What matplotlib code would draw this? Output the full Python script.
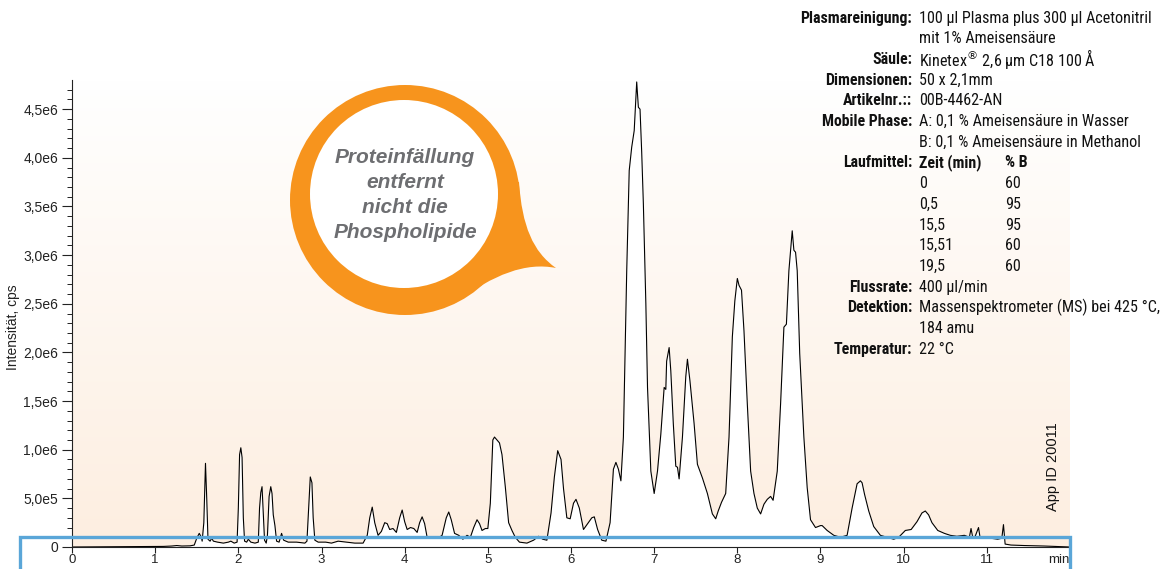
import numpy as np
import matplotlib
matplotlib.use("Agg")
import matplotlib.pyplot as plt
from matplotlib.path import Path
from matplotlib.patches import PathPatch, Circle
from matplotlib import font_manager as fm

# ---- chromatogram (retention time in min, intensity in 1e6 cps) ----
time_min = [
    0.00, 0.40, 0.80, 1.10, 1.20, 1.26, 1.32, 1.42, 1.47, 1.50, 1.53, 1.555, 1.565,
    1.585, 1.605, 1.62, 1.635, 1.66, 1.68, 1.70, 1.75, 1.82, 1.88, 1.91, 1.95,
    1.985, 2.00, 2.015, 2.03, 2.045, 2.06, 2.075, 2.10, 2.12, 2.15, 2.20, 2.24,
    2.255, 2.27, 2.285, 2.30, 2.315, 2.335, 2.35, 2.37, 2.39, 2.405, 2.42, 2.44,
    2.46, 2.49, 2.52, 2.545, 2.60, 2.70, 2.80, 2.825, 2.845, 2.865, 2.885, 2.90,
    2.92, 2.96, 3.05, 3.12, 3.20, 3.30, 3.40, 3.50, 3.55, 3.58, 3.61, 3.64, 3.68,
    3.72, 3.76, 3.79, 3.82, 3.86, 3.90, 3.94, 3.97, 4.00, 4.03, 4.07, 4.11, 4.15,
    4.18, 4.21, 4.24, 4.27, 4.32, 4.40, 4.45, 4.50, 4.53, 4.56, 4.60, 4.65, 4.70,
    4.75, 4.79, 4.83, 4.87, 4.90, 4.93, 4.97, 5.00, 5.03, 5.06, 5.08, 5.11, 5.14,
    5.17, 5.21, 5.25, 5.29, 5.33, 5.38, 5.47, 5.55, 5.61, 5.66, 5.71, 5.76, 5.80,
    5.84, 5.88, 5.91, 5.95, 5.99, 6.03, 6.06, 6.10, 6.15, 6.20, 6.25, 6.28, 6.32,
    6.37, 6.42, 6.47, 6.51, 6.54, 6.57, 6.60, 6.63, 6.67, 6.70, 6.73, 6.76, 6.79,
    6.81, 6.83, 6.85, 6.87, 6.90, 6.92, 6.96, 7.00, 7.04, 7.08, 7.12, 7.14, 7.15,
    7.18, 7.20, 7.23, 7.26, 7.28, 7.30, 7.34, 7.38, 7.40, 7.43, 7.48, 7.52, 7.58,
    7.64, 7.70, 7.74, 7.77, 7.81, 7.86, 7.90, 7.94, 7.97, 8.00, 8.02, 8.05, 8.08,
    8.12, 8.16, 8.20, 8.24, 8.28, 8.32, 8.36, 8.40, 8.43, 8.48, 8.52, 8.56, 8.59,
    8.62, 8.66, 8.68, 8.70, 8.72, 8.75, 8.80, 8.84, 8.88, 8.94, 9.00, 9.02, 9.08,
    9.16, 9.24, 9.32, 9.38, 9.44, 9.48, 9.50, 9.53, 9.58, 9.64, 9.72, 9.80, 9.88,
    9.94, 10.02, 10.09, 10.16, 10.22, 10.26, 10.30, 10.34, 10.41, 10.49, 10.56,
    10.64, 10.73, 10.79, 10.81, 10.83, 10.86, 10.90, 10.92, 10.98, 11.05, 11.13,
    11.18, 11.20, 11.22, 11.29, 11.45, 11.69, 12.00,
]
intensity_mcps = [
    0.000, 0.002, 0.004, 0.006, 0.010, 0.015, 0.010, 0.012, 0.020, 0.09, 0.14, 0.10, 0.06,
    0.25, 0.86, 0.50, 0.08, 0.06, 0.09, 0.06, 0.05, 0.04, 0.05, 0.06, 0.04,
    0.05, 0.40, 0.95, 1.02, 0.92, 0.30, 0.06, 0.05, 0.08, 0.05, 0.04, 0.05,
    0.40, 0.56, 0.62, 0.35, 0.07, 0.04, 0.12, 0.52, 0.62, 0.55, 0.33, 0.22,
    0.06, 0.05, 0.14, 0.07, 0.05, 0.05, 0.04, 0.06, 0.40, 0.72, 0.66, 0.30,
    0.07, 0.05, 0.05, 0.04, 0.06, 0.05, 0.04, 0.04, 0.12, 0.30, 0.41, 0.25, 0.12,
    0.16, 0.25, 0.24, 0.18, 0.19, 0.15, 0.30, 0.38, 0.26, 0.18, 0.20, 0.19, 0.15,
    0.25, 0.31, 0.24, 0.10, 0.09, 0.09, 0.12, 0.30, 0.36, 0.28, 0.14, 0.12, 0.08,
    0.12, 0.10, 0.20, 0.28, 0.24, 0.17, 0.19, 0.19, 0.45, 1.10, 1.13, 1.10, 1.07,
    0.95, 0.62, 0.25, 0.17, 0.10, 0.05, 0.04, 0.07, 0.11, 0.08, 0.07, 0.35, 0.72,
    0.99, 0.90, 0.60, 0.30, 0.29, 0.45, 0.49, 0.40, 0.18, 0.24, 0.30, 0.31, 0.18,
    0.07, 0.06, 0.25, 0.80, 0.87, 0.80, 0.68, 1.13, 2.84, 3.87, 4.11, 4.28, 4.78,
    4.52, 4.50, 4.06, 3.53, 2.50, 1.64, 0.78, 0.55, 0.78, 1.16, 1.64, 1.62, 1.91,
    2.05, 1.81, 1.27, 0.83, 0.82, 0.70, 1.13, 1.75, 1.93, 1.71, 1.27, 0.85, 0.71,
    0.55, 0.34, 0.29, 0.37, 0.46, 0.55, 1.13, 2.16, 2.53, 2.76, 2.69, 2.64, 2.22,
    1.47, 0.78, 0.55, 0.40, 0.34, 0.44, 0.49, 0.52, 0.48, 0.78, 1.47, 2.26, 2.29,
    2.84, 3.25, 3.05, 3.03, 2.84, 1.99, 1.13, 0.61, 0.28, 0.20, 0.22, 0.22, 0.17,
    0.12, 0.10, 0.12, 0.40, 0.65, 0.68, 0.66, 0.54, 0.37, 0.21, 0.12, 0.10, 0.08,
    0.10, 0.17, 0.18, 0.26, 0.35, 0.37, 0.33, 0.25, 0.17, 0.14, 0.12,
    0.11, 0.12, 0.10, 0.19, 0.10, 0.11, 0.20, 0.09, 0.10, 0.09, 0.08,
    0.09, 0.23, 0.03, 0.02, 0.015, 0.01, 0.00,
]

x_ticks = list(range(13))
x_tick_labels = ["0", "1", "2", "3", "4", "5", "6", "7", "8", "9", "10", "11", "min"]
y_ticks = [0, 5e5, 1e6, 1.5e6, 2e6, 2.5e6, 3e6, 3.5e6, 4e6, 4.5e6]
y_tick_labels = ["0", "5,0e5", "1,0e6", "1,5e6", "2,0e6", "2,5e6", "3,0e6",
                 "3,5e6", "4,0e6", "4,5e6"]

# ---- method description ----
method_labels = ["Plasmareinigung:", "", "Säule:", "Dimensionen:", "Artikelnr.::",
                 "Mobile Phase:", "", "Laufmittel:"]
method_values = ["100 µl Plasma plus 300 µl Acetonitril", "mit 1% Ameisensäure",
                 "Kinetex$^{\\circledR}$ 2,6 µm C18 100 Å", "50 x 2,1mm", "00B-4462-AN",
                 "A: 0,1 % Ameisensäure in Wasser", "B: 0,1 % Ameisensäure in Methanol",
                 "Zeit (min)"]
gradient_time = ["0", "0,5", "15,5", "15,51", "19,5"]
gradient_b = ["60", "95", "95", "60", "60"]
tail_labels = ["Flussrate:", "Detektion:", "", "Temperatur:"]
tail_values = ["400 µl/min", "Massenspektrometer (MS) bei 425 °C,", "184 amu", "22 °C"]

callout_lines = ["Proteinfällung", "entfernt", "nicht die", "Phospholipide"]

# ---- fonts ----
installed = sorted({f.name for f in fm.fontManager.ttflist})
narrow = None
for cand in ("Liberation Sans Narrow", "Roboto Condensed", "Open Sans Condensed",
             "Noto Sans Condensed", "DejaVu Sans Condensed"):
    if cand in installed:
        narrow = cand
        break
if narrow is None:
    for n in installed:
        if "Narrow" in n or "Condensed" in n:
            narrow = n
            break
if narrow is None:
    narrow = "Liberation Sans"
    fs_label, fs_value = 9.6, 10.4
else:
    fs_label, fs_value = 11.4, 11.6

plt.rcParams["font.family"] = ["Liberation Sans", "DejaVu Sans"]
plt.rcParams["mathtext.fontset"] = "dejavusans"

W, H = 1172, 569
fig = plt.figure(figsize=(W / 100, H / 100), dpi=100)
fig.patch.set_facecolor("white")

ax_left, ax_right, ax_bottom, ax_top = 72, 1070, 547, 80
ax = fig.add_axes([ax_left / W, (H - ax_bottom) / H,
                   (ax_right - ax_left) / W, (ax_bottom - ax_top) / H])
ax.set_xlim(0, 12)
ax.set_ylim(0, 4.8e6)

# peach gradient behind the trace, white under it
grad = np.linspace(0, 1, 256).reshape(-1, 1)
top_c = np.array([1.0, 1.0, 1.0])
bot_c = np.array([253, 238, 224]) / 255.0
img = top_c[None, None, :] * (1 - grad[..., None]) + bot_c[None, None, :] * grad[..., None]
ax.imshow(img, extent=[0, 1, 0, 1], transform=ax.transAxes, aspect="auto",
          origin="upper", zorder=0)

t = np.array(time_min)
y = np.array(intensity_mcps) * 1e6
ax.fill_between(t, 0, y, color="white", zorder=1, linewidth=0)
ax.plot(t, y, color="black", lw=0.8, zorder=2)

for s in ("top", "right"):
    ax.spines[s].set_visible(False)
for s in ("left", "bottom"):
    ax.spines[s].set_linewidth(0.8)
    ax.spines[s].set_color("#222222")

ax.set_xticks(x_ticks)
ax.set_xticklabels(x_tick_labels)
ax.get_xticklabels()[-1].set_horizontalalignment("right")
ax.set_yticks(y_ticks)
ax.set_yticklabels(y_tick_labels)
ax.set_yticks(np.arange(0, 4.8e6, 1e5), minor=True)
ax.tick_params(axis="y", which="major", labelsize=10, length=7, width=0.8,
               color="#222222", labelcolor="#222222", pad=3)
ax.tick_params(axis="y", which="minor", length=3.5, width=0.7, color="#222222")
ax.tick_params(axis="x", which="major", labelsize=9.5, length=4, width=0.8,
               color="#222222", labelcolor="#222222", pad=1)
ax.set_ylabel("Intensität, cps", fontsize=10, color="#222222")
ax.yaxis.set_label_coords(-0.052, 0.47)

# ---- overlay in pixel coordinates ----
ov = fig.add_axes([0, 0, 1, 1], zorder=5)
ov.set_xlim(0, W)
ov.set_ylim(H, 0)
ov.axis("off")
ov.patch.set_alpha(0)

orange = "#f7941d"
cx, cy, r_out = 405, 200, 115
ov.add_patch(Circle((cx, cy), r_out, color=orange, lw=0))
tail = Path([(cx, cy), (519, 182), (522, 226), (533, 252), (556, 268),
             (526, 262), (494, 274), (455, 303), (cx, cy)],
            [Path.MOVETO, Path.LINETO, Path.CURVE4, Path.CURVE4, Path.CURVE4,
             Path.CURVE4, Path.CURVE4, Path.CURVE4, Path.CLOSEPOLY])
ov.add_patch(PathPatch(tail, facecolor=orange, lw=0))
ov.add_patch(Circle((404, 194), 94, color="white", lw=0))
for i, line in enumerate(callout_lines):
    ov.text(405, 157 + 25 * i, line, ha="center", va="center", fontsize=15,
            fontweight="bold", fontstyle="italic", color="#6d6e71")

# method text block
lx, vx, bx = 912, 919, 1005
row_y = lambda k: 18 + 20.7 * k
ink = "#111111"
k = 0
for lab, val in zip(method_labels, method_values):
    if lab:
        ov.text(lx, row_y(k), lab, ha="right", va="center", fontsize=fs_label,
                fontweight="bold", family=narrow, color=ink)
    bold = lab == "Laufmittel:"
    ov.text(vx, row_y(k), val, ha="left", va="center",
            fontsize=fs_label if bold else fs_value,
            fontweight="bold" if bold else "normal", family=narrow, color=ink)
    if bold:
        ov.text(bx, row_y(k), "% B", ha="left", va="center", fontsize=fs_label,
                fontweight="bold", family=narrow, color=ink)
    k += 1
for tm, pb in zip(gradient_time, gradient_b):
    ov.text(vx, row_y(k), tm, ha="left", va="center", fontsize=fs_value,
            family=narrow, color=ink)
    ov.text(bx, row_y(k), pb, ha="left", va="center", fontsize=fs_value,
            family=narrow, color=ink)
    k += 1
for lab, val in zip(tail_labels, tail_values):
    if lab:
        ov.text(lx, row_y(k), lab, ha="right", va="center", fontsize=fs_label,
                fontweight="bold", family=narrow, color=ink)
    ov.text(vx, row_y(k), val, ha="left", va="center", fontsize=fs_value,
            family=narrow, color=ink)
    k += 1

ov.text(1053, 467, "App ID 20011", rotation=90, ha="center", va="center",
        fontsize=10.5, color=ink)

# highlight frame around the baseline region
ov.plot([20, 20, 1070, 1070], [H + 10, 537, 537, H + 10], color="#5aa6d8",
        lw=2.4, solid_joinstyle="miter", clip_on=False)

fig.savefig("out.png", dpi=100)
